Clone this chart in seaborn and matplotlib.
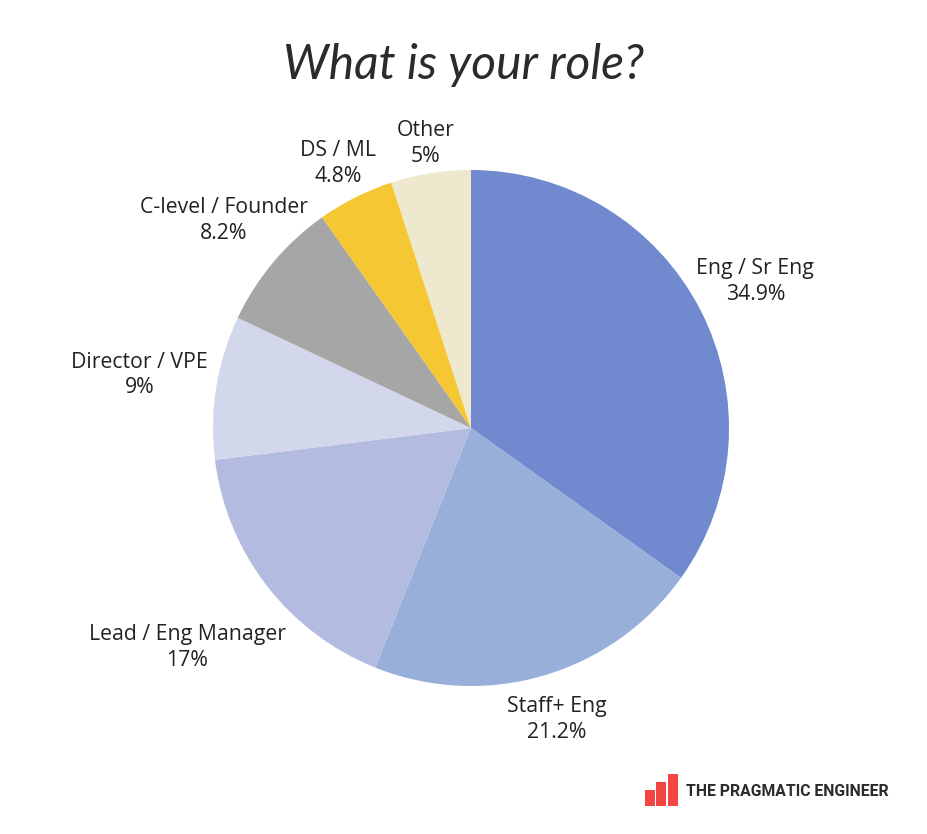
import numpy as np
import matplotlib
matplotlib.use("Agg")
import matplotlib.pyplot as plt
import seaborn as sns

roles = ["Eng / Sr Eng", "Staff+ Eng", "Lead / Eng Manager", "Director / VPE",
         "C-level / Founder", "DS / ML", "Other"]
shares = [34.9, 21.2, 17, 9, 8.2, 4.8, 5]
role_colors = ["#7089CF", "#97AFD9", "#B3BBE0", "#D3D7EB", "#A6A6A6", "#F4C733", "#EEE8CF"]
logo_levels = [2, 3, 4]
title_text = "What is your role?"
brand_text = "THE PRAGMATIC ENGINEER"

sns.set_theme(style="white")
plt.rcParams["font.family"] = ["Open Sans", "DejaVu Sans"]

W, H = 928, 834
fig = plt.figure(figsize=(W / 100, H / 100), dpi=100, facecolor="white")

# pie: centre (471, 428), radius 258 px
cx, cy, R = 471, 428, 258
ax = fig.add_axes([(cx - R) / W, 1 - (cy + R) / H, 2 * R / W, 2 * R / H])
labels = [f"{r}\n{s:g}%" for r, s in zip(roles, shares)]
wedges, texts = ax.pie(shares, labels=labels, colors=sns.color_palette(role_colors),
                       startangle=90, counterclock=False, radius=1,
                       wedgeprops=dict(linewidth=0, edgecolor="none"),
                       textprops=dict(fontsize=15.3, color="#222222", ha="center",
                                      va="center", linespacing=1.3))
ax.set_xlim(-1, 1)
ax.set_ylim(-1, 1)
ax.set_aspect("equal")

label_radii = [1.24, 1.178, 1.39, 1.30, 1.25, 1.148, 1.118]
for w, t, r in zip(wedges, texts, label_radii):
    a = np.deg2rad((w.theta1 + w.theta2) / 2)
    t.set_position((r * np.cos(a), r * np.sin(a)))
    t.set_ha("center")
    t.set_va("center")
    t.set_multialignment("center")

fig.text(464 / W, 1 - 65 / H, title_text, ha="center", va="center",
         fontsize=34.5, color="#2b2b2b", style="italic", family=["Lato", "DejaVu Sans"])

# logo bars
lax = fig.add_axes([644 / W, 1 - 806 / H, 34.5 / W, 32 / H])
sns.barplot(x=[0, 1, 2], y=logo_levels, ax=lax, color="#F44545", saturation=1,
            width=0.9, linewidth=0, edgecolor="none")
lax.set_ylim(0, 4)
lax.set_xlim(-0.5, 2.5)
lax.axis("off")

fig.text(686 / W, 1 - 791 / H, brand_text, ha="left", va="center", fontsize=11.3,
         fontweight="bold", color="#2b2b2b", family=["Roboto", "DejaVu Sans"])

fig.savefig("out.png", dpi=100, facecolor="white")
